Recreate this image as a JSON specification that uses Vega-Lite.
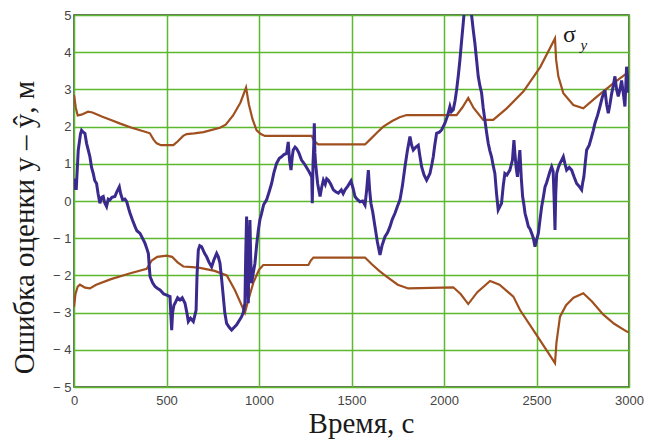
{
  "$schema": "https://vega.github.io/schema/vega-lite/v6.json",
  "width": 555,
  "height": 372,
  "autosize": {"type": "none"},
  "padding": {"left": 74, "top": 15, "right": 20, "bottom": 54},
  "background": "white",
  "config": {
    "view": {"stroke": "#3a3a3a", "strokeWidth": 1.5},
    "axis": {
      "grid": true,
      "gridColor": "#5cb82e",
      "gridWidth": 1.5,
      "gridOpacity": 1,
      "domain": false,
      "ticks": false,
      "labelOverlap": false,
      "labelFont": "Liberation Sans",
      "labelFontSize": 13,
      "labelColor": "#444444",
      "titleFont": "Liberation Serif",
      "titleFontWeight": "normal",
      "titleFontSize": 29,
      "titleColor": "#1a1a1a"
    }
  },
  "datasets": {
    "up": [
      {"t":0,"v":2.85},{"t":10,"v":2.5},{"t":20,"v":2.3},{"t":40,"v":2.32},{"t":76,"v":2.4},{"t":100,"v":2.38},{"t":150,"v":2.27},{"t":200,"v":2.18},{"t":250,"v":2.08},{"t":312,"v":1.97},{"t":393,"v":1.85},{"t":410,"v":1.82},{"t":430,"v":1.65},{"t":447,"v":1.55},{"t":470,"v":1.5},{"t":537,"v":1.5},{"t":560,"v":1.6},{"t":590,"v":1.75},{"t":609,"v":1.8},{"t":650,"v":1.82},{"t":700,"v":1.85},{"t":789,"v":1.97},{"t":820,"v":2.05},{"t":860,"v":2.3},{"t":900,"v":2.65},{"t":930,"v":3.05},{"t":945,"v":2.6},{"t":965,"v":2.2},{"t":987,"v":1.9},{"t":1010,"v":1.8},{"t":1032,"v":1.75},{"t":1285,"v":1.75},{"t":1300,"v":1.6},{"t":1320,"v":1.52},{"t":1573,"v":1.52},{"t":1600,"v":1.65},{"t":1640,"v":1.85},{"t":1672,"v":2.0},{"t":1720,"v":2.15},{"t":1760,"v":2.25},{"t":1798,"v":2.31},{"t":2014,"v":2.31},{"t":2068,"v":2.31},{"t":2100,"v":2.52},{"t":2131,"v":2.77},{"t":2160,"v":2.5},{"t":2212,"v":2.18},{"t":2266,"v":2.18},{"t":2339,"v":2.49},{"t":2430,"v":2.95},{"t":2520,"v":3.6},{"t":2600,"v":4.37},{"t":2606,"v":3.8},{"t":2618,"v":3.35},{"t":2645,"v":2.9},{"t":2699,"v":2.58},{"t":2753,"v":2.49},{"t":2825,"v":2.8},{"t":2915,"v":3.16},{"t":2987,"v":3.43},{"t":3000,"v":3.46}
    ],
    "lo": [
      {"t":0,"v":-2.85},{"t":8,"v":-2.5},{"t":20,"v":-2.3},{"t":32,"v":-2.25},{"t":60,"v":-2.33},{"t":86,"v":-2.35},{"t":120,"v":-2.25},{"t":200,"v":-2.1},{"t":300,"v":-1.95},{"t":393,"v":-1.82},{"t":420,"v":-1.6},{"t":450,"v":-1.5},{"t":501,"v":-1.47},{"t":530,"v":-1.5},{"t":560,"v":-1.65},{"t":591,"v":-1.76},{"t":640,"v":-1.78},{"t":681,"v":-1.8},{"t":760,"v":-1.88},{"t":826,"v":-2.0},{"t":870,"v":-2.4},{"t":924,"v":-3.0},{"t":940,"v":-2.7},{"t":969,"v":-2.2},{"t":1000,"v":-1.85},{"t":1023,"v":-1.72},{"t":1267,"v":-1.72},{"t":1280,"v":-1.6},{"t":1294,"v":-1.52},{"t":1573,"v":-1.52},{"t":1610,"v":-1.7},{"t":1650,"v":-1.88},{"t":1690,"v":-2.03},{"t":1750,"v":-2.25},{"t":1807,"v":-2.35},{"t":2050,"v":-2.32},{"t":2090,"v":-2.5},{"t":2131,"v":-2.77},{"t":2180,"v":-2.45},{"t":2249,"v":-2.15},{"t":2300,"v":-2.25},{"t":2375,"v":-2.57},{"t":2411,"v":-2.93},{"t":2500,"v":-3.6},{"t":2600,"v":-4.36},{"t":2608,"v":-3.8},{"t":2627,"v":-3.11},{"t":2660,"v":-2.8},{"t":2700,"v":-2.6},{"t":2753,"v":-2.48},{"t":2800,"v":-2.7},{"t":2860,"v":-3.05},{"t":2920,"v":-3.3},{"t":2988,"v":-3.51},{"t":3000,"v":-3.53}
    ],
    "err": [
      {"t":0,"v":0.3},{"t":5,"v":0.6},{"t":12,"v":0.3},{"t":23,"v":1.37},{"t":35,"v":1.8},{"t":41,"v":1.9},{"t":50,"v":1.85},{"t":59,"v":1.82},{"t":68,"v":1.55},{"t":86,"v":1.19},{"t":95,"v":0.9},{"t":104,"v":0.74},{"t":112,"v":0.55},{"t":122,"v":0.47},{"t":130,"v":0.2},{"t":140,"v":-0.06},{"t":150,"v":0.1},{"t":158,"v":0.12},{"t":166,"v":-0.05},{"t":176,"v":-0.15},{"t":185,"v":0.05},{"t":194,"v":0.03},{"t":205,"v":0.1},{"t":221,"v":0.12},{"t":232,"v":0.25},{"t":245,"v":0.38},{"t":252,"v":0.2},{"t":263,"v":0.03},{"t":275,"v":0.05},{"t":285,"v":-0.02},{"t":295,"v":-0.2},{"t":303,"v":-0.33},{"t":315,"v":-0.5},{"t":330,"v":-0.69},{"t":340,"v":-0.8},{"t":357,"v":-0.87},{"t":370,"v":-1.0},{"t":384,"v":-1.14},{"t":395,"v":-1.3},{"t":402,"v":-1.41},{"t":406,"v":-1.7},{"t":411,"v":-2.03},{"t":425,"v":-2.2},{"t":438,"v":-2.3},{"t":452,"v":-2.35},{"t":465,"v":-2.39},{"t":485,"v":-2.5},{"t":501,"v":-2.53},{"t":519,"v":-2.57},{"t":524,"v":-3.1},{"t":528,"v":-3.47},{"t":533,"v":-3.0},{"t":540,"v":-2.8},{"t":546,"v":-2.75},{"t":560,"v":-2.6},{"t":573,"v":-2.66},{"t":585,"v":-2.6},{"t":600,"v":-2.75},{"t":610,"v":-3.0},{"t":618,"v":-3.24},{"t":630,"v":-3.15},{"t":645,"v":-3.24},{"t":652,"v":-3.1},{"t":660,"v":-2.93},{"t":665,"v":-2.0},{"t":672,"v":-1.32},{"t":680,"v":-1.2},{"t":690,"v":-1.23},{"t":705,"v":-1.4},{"t":717,"v":-1.5},{"t":730,"v":-1.65},{"t":744,"v":-1.77},{"t":755,"v":-1.6},{"t":771,"v":-1.41},{"t":780,"v":-1.5},{"t":789,"v":-1.67},{"t":800,"v":-2.2},{"t":807,"v":-2.57},{"t":815,"v":-3.0},{"t":825,"v":-3.29},{"t":840,"v":-3.4},{"t":852,"v":-3.47},{"t":865,"v":-3.4},{"t":879,"v":-3.33},{"t":895,"v":-3.2},{"t":906,"v":-3.11},{"t":915,"v":-3.0},{"t":924,"v":-2.75},{"t":928,"v":-1.5},{"t":933,"v":-0.42},{"t":937,"v":-1.8},{"t":942,"v":-2.75},{"t":946,"v":-1.5},{"t":951,"v":-0.51},{"t":955,"v":-1.5},{"t":960,"v":-2.21},{"t":970,"v":-1.9},{"t":978,"v":-1.68},{"t":987,"v":-1.2},{"t":996,"v":-0.8},{"t":1005,"v":-0.5},{"t":1014,"v":-0.33},{"t":1025,"v":-0.1},{"t":1041,"v":0.03},{"t":1055,"v":0.25},{"t":1068,"v":0.47},{"t":1080,"v":0.75},{"t":1095,"v":1.01},{"t":1110,"v":1.15},{"t":1122,"v":1.19},{"t":1135,"v":1.25},{"t":1149,"v":1.28},{"t":1154,"v":1.45},{"t":1158,"v":1.59},{"t":1165,"v":1.1},{"t":1173,"v":0.83},{"t":1180,"v":1.2},{"t":1185,"v":1.37},{"t":1195,"v":1.45},{"t":1203,"v":1.41},{"t":1215,"v":1.3},{"t":1230,"v":1.1},{"t":1245,"v":1.0},{"t":1266,"v":0.83},{"t":1280,"v":0.7},{"t":1285,"v":0.65},{"t":1288,"v":-0.06},{"t":1292,"v":1.0},{"t":1296,"v":1.5},{"t":1299,"v":2.09},{"t":1302,"v":1.3},{"t":1306,"v":1.01},{"t":1312,"v":0.7},{"t":1317,"v":0.47},{"t":1323,"v":0.3},{"t":1330,"v":0.12},{"t":1338,"v":0.35},{"t":1348,"v":0.56},{"t":1358,"v":0.45},{"t":1366,"v":0.6},{"t":1375,"v":0.56},{"t":1388,"v":0.45},{"t":1402,"v":0.3},{"t":1415,"v":0.25},{"t":1429,"v":0.21},{"t":1445,"v":0.3},{"t":1455,"v":0.2},{"t":1465,"v":0.3},{"t":1480,"v":0.4},{"t":1497,"v":0.54},{"t":1508,"v":0.35},{"t":1519,"v":0.12},{"t":1530,"v":0.05},{"t":1546,"v":-0.02},{"t":1560,"v":0.0},{"t":1573,"v":-0.11},{"t":1582,"v":0.3},{"t":1591,"v":0.83},{"t":1598,"v":0.3},{"t":1605,"v":-0.06},{"t":1615,"v":-0.3},{"t":1627,"v":-0.69},{"t":1640,"v":-1.1},{"t":1654,"v":-1.45},{"t":1665,"v":-1.2},{"t":1681,"v":-0.96},{"t":1695,"v":-0.85},{"t":1708,"v":-0.69},{"t":1720,"v":-0.5},{"t":1735,"v":-0.33},{"t":1748,"v":-0.15},{"t":1762,"v":0.03},{"t":1775,"v":0.4},{"t":1789,"v":0.92},{"t":1802,"v":1.35},{"t":1816,"v":1.73},{"t":1825,"v":1.5},{"t":1834,"v":1.37},{"t":1848,"v":1.45},{"t":1861,"v":1.5},{"t":1870,"v":1.2},{"t":1879,"v":0.92},{"t":1892,"v":0.7},{"t":1906,"v":0.56},{"t":1915,"v":0.65},{"t":1924,"v":0.74},{"t":1935,"v":1.0},{"t":1942,"v":1.19},{"t":1950,"v":1.5},{"t":1960,"v":1.82},{"t":1975,"v":1.85},{"t":1987,"v":1.91},{"t":2005,"v":2.09},{"t":2020,"v":2.3},{"t":2032,"v":2.54},{"t":2040,"v":2.4},{"t":2050,"v":2.45},{"t":2060,"v":2.7},{"t":2068,"v":2.98},{"t":2078,"v":3.4},{"t":2086,"v":3.79},{"t":2095,"v":4.3},{"t":2104,"v":4.78},{"t":2113,"v":5.3},{"t":2140,"v":5.3},{"t":2149,"v":5.0},{"t":2158,"v":4.6},{"t":2167,"v":4.24},{"t":2176,"v":3.8},{"t":2185,"v":3.35},{"t":2194,"v":3.1},{"t":2203,"v":2.91},{"t":2212,"v":2.5},{"t":2221,"v":2.18},{"t":2230,"v":1.85},{"t":2239,"v":1.55},{"t":2248,"v":1.35},{"t":2257,"v":1.19},{"t":2266,"v":0.95},{"t":2275,"v":0.74},{"t":2284,"v":0.2},{"t":2293,"v":-0.24},{"t":2302,"v":-0.15},{"t":2311,"v":-0.06},{"t":2320,"v":0.4},{"t":2329,"v":0.74},{"t":2340,"v":0.7},{"t":2356,"v":0.83},{"t":2370,"v":1.1},{"t":2378,"v":1.64},{"t":2383,"v":1.3},{"t":2390,"v":0.9},{"t":2397,"v":0.65},{"t":2403,"v":1.0},{"t":2410,"v":1.37},{"t":2418,"v":0.6},{"t":2425,"v":0.12},{"t":2432,"v":-0.1},{"t":2438,"v":-0.33},{"t":2447,"v":-0.5},{"t":2456,"v":-0.69},{"t":2465,"v":-0.75},{"t":2474,"v":-0.87},{"t":2483,"v":-1.0},{"t":2492,"v":-1.23},{"t":2500,"v":-1.05},{"t":2510,"v":-0.87},{"t":2519,"v":-0.5},{"t":2528,"v":-0.15},{"t":2537,"v":0.1},{"t":2546,"v":0.38},{"t":2555,"v":0.5},{"t":2564,"v":0.65},{"t":2573,"v":0.8},{"t":2582,"v":0.92},{"t":2590,"v":0.8},{"t":2595,"v":0.1},{"t":2600,"v":-0.78},{"t":2604,"v":0.2},{"t":2609,"v":0.74},{"t":2618,"v":0.9},{"t":2627,"v":1.01},{"t":2636,"v":1.1},{"t":2645,"v":1.19},{"t":2654,"v":1.0},{"t":2663,"v":0.83},{"t":2677,"v":0.9},{"t":2690,"v":0.83},{"t":2703,"v":0.65},{"t":2717,"v":0.47},{"t":2730,"v":0.4},{"t":2744,"v":0.3},{"t":2750,"v":0.5},{"t":2756,"v":0.65},{"t":2763,"v":1.0},{"t":2771,"v":1.37},{"t":2785,"v":1.5},{"t":2798,"v":1.73},{"t":2807,"v":1.9},{"t":2816,"v":2.09},{"t":2830,"v":2.3},{"t":2843,"v":2.54},{"t":2856,"v":2.8},{"t":2870,"v":2.98},{"t":2879,"v":2.6},{"t":2888,"v":2.36},{"t":2897,"v":2.6},{"t":2906,"v":2.88},{"t":2915,"v":3.1},{"t":2924,"v":3.35},{"t":2933,"v":3.0},{"t":2942,"v":2.81},{"t":2951,"v":3.0},{"t":2960,"v":3.24},{"t":2969,"v":2.9},{"t":2978,"v":2.54},{"t":2987,"v":3.61},{"t":2996,"v":2.91},{"t":3000,"v":3.4}
    ],
    "labels": [
      {"t":2643,"v":4.27,"label":"σ","kind":"main"},
      {"t":2738,"v":4.05,"label":"y","kind":"sub"}
    ]
  },
  "layer": [
    {
      "data": {"name": "up"},
      "mark": {"type": "line", "color": "#a0501e", "strokeWidth": 2.2, "clip": true},
      "encoding": {
        "x": {"field": "t", "type": "quantitative", "scale": {"domain": [0, 3000], "nice": false},
          "axis": {"values": [0, 500, 1000, 1500, 2000, 2500, 3000], "tickCount": 7, "format": "d", "title": "Время, с", "labelPadding": 7, "titleX": 287, "titleY": 45, "titleBaseline": "alphabetic", "labelFlush": false}},
        "y": {"field": "v", "type": "quantitative", "scale": {"domain": [-5, 5], "nice": false},
          "axis": {"values": [-5, -4, -3, -2, -1, 0, 1, 2, 3, 4, 5], "tickCount": 11, "title": "Ошибка оценки  y – ŷ, м", "labelPadding": 3,
            "labelExpr": "datum.value < 0 ? '− ' + (-datum.value) : datum.label", "titleX": -50, "titleY": 212, "titleBaseline": "middle", "titleAngle": -90}}
      }
    },
    {
      "data": {"name": "lo"},
      "mark": {"type": "line", "color": "#a0501e", "strokeWidth": 2.2, "clip": true},
      "encoding": {
        "x": {"field": "t", "type": "quantitative"},
        "y": {"field": "v", "type": "quantitative"}
      }
    },
    {
      "data": {"name": "err"},
      "mark": {"type": "line", "color": "#3b2a8e", "strokeWidth": 3, "clip": true},
      "encoding": {
        "x": {"field": "t", "type": "quantitative"},
        "y": {"field": "v", "type": "quantitative"}
      }
    },
    {
      "data": {"name": "labels"},
      "transform": [{"filter": "datum.kind == 'main'"}],
      "mark": {"type": "text", "font": "Liberation Serif", "fontSize": 24, "align": "left", "baseline": "alphabetic", "color": "#1a1a1a"},
      "encoding": {
        "x": {"field": "t", "type": "quantitative"},
        "y": {"field": "v", "type": "quantitative"},
        "text": {"field": "label"}
      }
    },
    {
      "data": {"name": "labels"},
      "transform": [{"filter": "datum.kind == 'sub'"}],
      "mark": {"type": "text", "font": "Liberation Serif", "fontSize": 15, "fontStyle": "italic", "align": "left", "baseline": "alphabetic", "color": "#1a1a1a"},
      "encoding": {
        "x": {"field": "t", "type": "quantitative"},
        "y": {"field": "v", "type": "quantitative"},
        "text": {"field": "label"}
      }
    }
  ]
}
